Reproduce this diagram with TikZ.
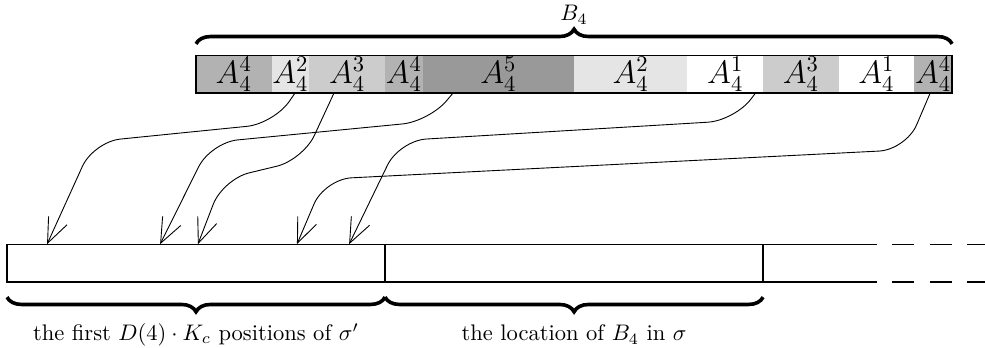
\documentclass[tikz,border=0pt]{standalone}
\usetikzlibrary{arrows.meta,decorations.pathreplacing}
\begin{document}
\begin{tikzpicture}[x=0.59cm, y=0.59cm,
    barline/.style={semithick},
    link/.style={-{Straight Barb[length=11pt,width=9pt]}, rounded corners=12pt},
    curly/.style={decorate, decoration={brace, amplitude=6.5pt}, ultra thick},
    curlydown/.style={curly, decoration={mirror}}]
    \useasboundingbox (-0.185,-1.72) rectangle (25.87,7.46);

    % --- Blocco B_4 ---
    \foreach \x/\w/\k [count=\i] in {5/2/4, 7/1/2, 8/2/3, 10/1/4, 11/4/5, 15/3/2, 18/2/1, 20/2/3, 22/2/1, 24/1/4} {
        \pgfmathtruncatemacro{\g}{20*(\k-1)}
        \fill[gray!\g] (\x,5) rectangle ++(\w,1);
        \node[inner sep=0pt] (a\i) at (\x+\w/2,5.5) {\Large $A_4^{\k}$};
    }
    \draw[barline] (5,5) rectangle (25,6);

    % Graffa sopra
    \draw[curly] (5,6.3) -- (25,6.3);
    \node (blabel) at (15,7.07) {$B_4$};

    % --- Sequenza sotto ---
    \draw[barline] (23,1) -- (0,1) -- (0,0) -- (23,0);
    \draw[barline] (10,0) -- (10,1) (20,0) -- (20,1);
    \draw[barline, dash pattern=on 9.8pt off 6.9pt, dash phase=9.8pt] (23,1) -- (25.87,1) (23,0) -- (25.87,0);

    % Graffe sotto
    \draw[curlydown] (0,-0.4) -- (10,-0.4);
    \draw[curlydown] (10,-0.4) -- (20,-0.4);
    \node (lfirst) at (5,-1.39) {the first $D(4)\cdot K_c$ positions of $\sigma'$};
    \node (lloc) at (15,-1.39) {the location of $B_4$ in $\sigma$};

    % Punti di partenza e di arrivo
    \coordinate (src1) at (7.62,5);
    \coordinate (src2) at (8.65,5);
    \coordinate (src3) at (11.8,5);
    \coordinate (src4) at (19.8,5);
    \coordinate (src5) at (24.42,5);
    \coordinate (dst1) at (1.06,1);
    \coordinate (dst2) at (5.05,1);
    \coordinate (dst3) at (4.05,1);
    \coordinate (dst4) at (9.05,1);
    \coordinate (dst5) at (7.67,1);

    % Frecce
    \draw[link] (src1) -- (7.06,4.19) -- (2.29,3.71) -- (dst1);
    \draw[link] (src2) -- (7.83,3.23) -- (5.71,2.72) -- (dst2);
    \draw[link] (src3) -- (11.17,4.25) -- (5.39,3.69) -- (dst3);
    \draw[link] (src4) -- (19.25,4.27) -- (10.38,3.74) -- (dst4);
    \draw[link] (src5) -- (23.78,3.5) -- (8.40,2.72) -- (dst5);
\end{tikzpicture}
\end{document}
